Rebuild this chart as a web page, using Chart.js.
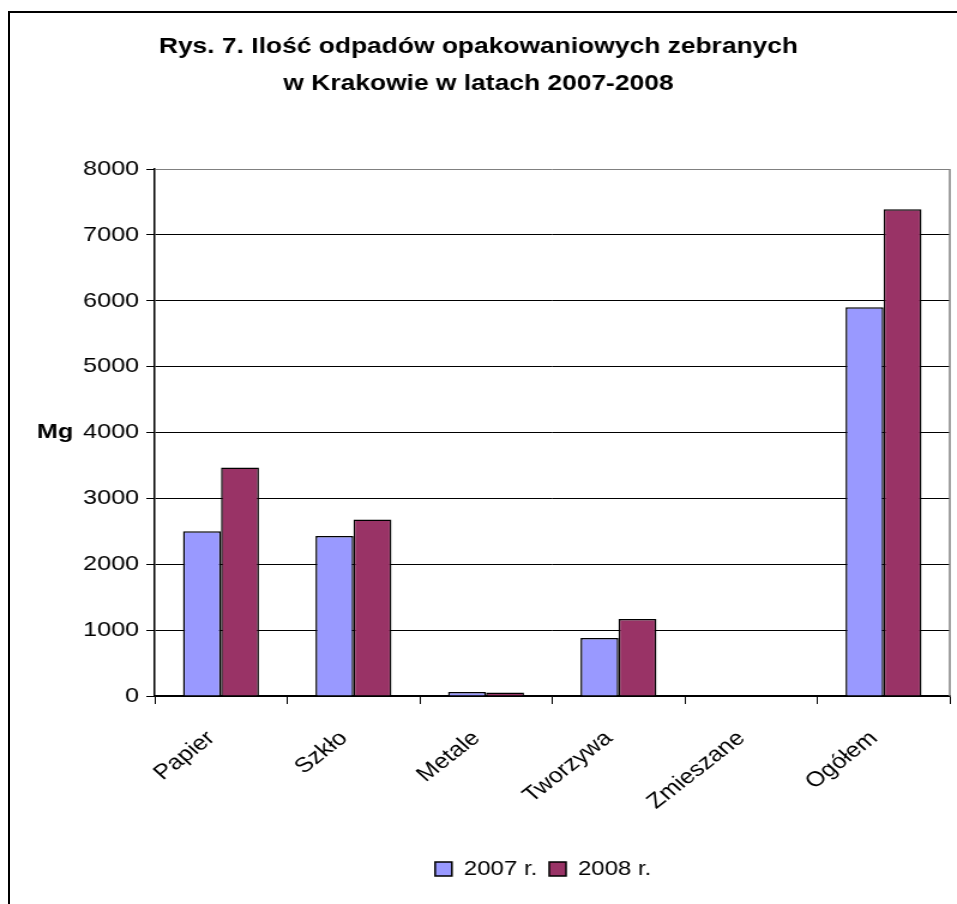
<!DOCTYPE html>
<html>
<head>
<meta charset="utf-8">
<script src="https://cdn.jsdelivr.net/npm/chart.js@4.4.1/dist/chart.umd.min.js"></script>
<style>
  html, body { margin: 0; padding: 0; background: #fff; overflow: hidden; }
  #frame {
    position: absolute; left: 8px; top: 11px; width: 2000px; height: 2000px;
    border-left: 2px solid #000; border-top: 2px solid #000; pointer-events: none;
  }
  /* the original picture is stretched horizontally, so draw narrow and widen it */
  #wrap {
    position: absolute; left: 0; top: 0; width: 798px; height: 904px;
    transform: scaleX(1.1992); transform-origin: 0 0;
  }
</style>
</head>
<body>
<div id="wrap"><canvas id="chart"></canvas></div>
<div id="frame"></div>
<script>
const categories = ["Papier", "Szkło", "Metale", "Tworzywa", "Zmieszane", "Ogółem"];
const values2007 = [2500, 2430, 60, 880, 0, 5900];
const values2008 = [3470, 2680, 55, 1170, 0, 7390];
const seriesNames = ["2007 r.", "2008 r."];
const titleLines = ["Rys. 7. Ilość odpadów opakowaniowych zebranych", "w Krakowie w latach 2007-2008"];
const yAxisLabel = "Mg";
const yMax = 8000;
const yStep = 1000;

const FONT = "'Liberation Sans', Arial, sans-serif";

const extrasPlugin = {
  id: "extras",
  afterLayout(chart) {
    // legend sits under the middle of the plot, not the whole picture
    const shift = 57;
    chart.legend.left += shift;
    chart.legend.right += shift;
  },
  afterDatasetsDraw(chart) {
    const { ctx, chartArea } = chart;
    ctx.save();
    // grey right edge of the plot area
    ctx.strokeStyle = "#808080";
    ctx.lineWidth = 1.5;
    ctx.beginPath();
    ctx.moveTo(chartArea.right, chartArea.top);
    ctx.lineTo(chartArea.right, chartArea.bottom);
    ctx.stroke();
    ctx.restore();
  },
  afterDraw(chart) {
    const { ctx } = chart;
    ctx.save();
    ctx.fillStyle = "#000";
    ctx.textAlign = "center";
    ctx.textBaseline = "middle";
    ctx.font = "bold 22px " + FONT;
    ctx.fillText(titleLines[0], chart.width / 2, 47);
    ctx.fillText(titleLines[1], chart.width / 2, 84);
    ctx.font = "bold 21px " + FONT;
    ctx.fillText(yAxisLabel, 46, chart.scales.y.getPixelForValue(4000));
    ctx.restore();
  },
};

function renderChart() {
  const ctx = document.getElementById("chart").getContext("2d");
  new Chart(ctx, {
    type: "bar",
    data: {
      labels: categories,
      datasets: [
        {
          label: seriesNames[0],
          data: values2007,
          backgroundColor: "#9999FF",
          borderColor: "#000",
          borderWidth: 1.5,
        },
        {
          label: seriesNames[1],
          data: values2008,
          backgroundColor: "#993366",
          borderColor: "#000",
          borderWidth: 1.5,
        },
      ],
    },
    options: {
      responsive: true,
      maintainAspectRatio: false,
      animation: false,
      layout: { padding: { left: 0, right: 6, top: 169, bottom: 15 } },
      datasets: { bar: { categoryPercentage: 0.573, barPercentage: 1 } },
      scales: {
        x: {
          grid: { drawOnChartArea: false, drawTicks: true, tickLength: 8, color: "#000", offset: true },
          border: { color: "#000", width: 1.5 },
          ticks: {
            color: "#000",
            font: { family: FONT, size: 21 },
            minRotation: 43,
            maxRotation: 43,
            padding: 22,
            labelOffset: -8,
          },
          afterFit: (scale) => { scale.height = 153; },
        },
        y: {
          min: 0,
          max: yMax,
          grid: {
            color: (c) => (c.tick && c.tick.value === yMax ? "#808080" : "#000"),
            tickColor: "#000",
            tickLength: 7,
            lineWidth: 1,
          },
          border: { color: "#000", width: 1.5 },
          ticks: {
            stepSize: yStep,
            color: "#000",
            font: { family: FONT, size: 21 },
            padding: 6,
            callback: (v) => String(v),
          },
          afterFit: (scale) => { scale.width = 129; },
        },
      },
      plugins: {
        title: { display: false },
        tooltip: { enabled: false },
        legend: {
          position: "bottom",
          labels: {
            color: "#000",
            font: { family: FONT, size: 20 },
            boxWidth: 14,
            boxHeight: 14,
            padding: 10,
          },
        },
      },
    },
    plugins: [extrasPlugin],
  });
}

document.addEventListener("DOMContentLoaded", renderChart);
</script>
</body>
</html>
